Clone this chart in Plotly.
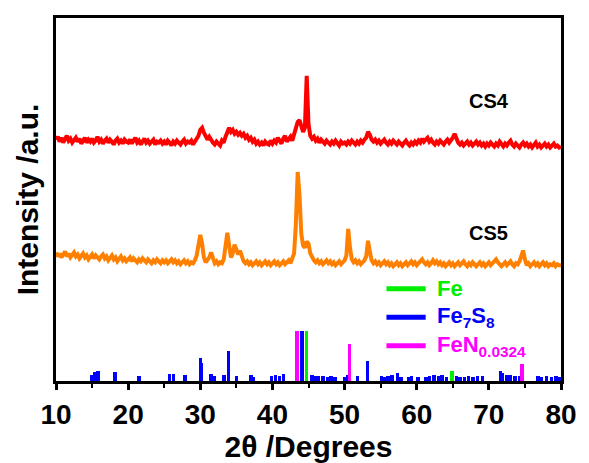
import numpy as np
import plotly.graph_objects as go

# 2-theta grid of the measured patterns (0.25 deg steps)
two_theta = np.round(np.arange(10, 80.001, 0.25), 2)

# CS4 intensity (offset, arbitrary units)
cs4 = [
    246,249,244,248,243,247,250,245,247,243,246,248,244,247,242,245,248,243,246,244,
    247,243,245,249,244,246,242,245,247,243,246,244,241,245,247,243,245,242,246,244,
    243,246,242,245,248,243,245,241,244,247,243,245,242,244,246,241,244,243,245,242,
    244,241,245,243,240,244,242,245,243,241,244,246,242,244,243,245,241,244,247,250,
    256,258,253,249,246,249,245,243,241,244,242,240,245,243,249,255,258,254,256,252,
    254,251,253,250,252,248,250,246,248,244,246,242,244,241,243,240,244,242,241,245,
    242,245,243,248,244,242,247,250,244,246,249,245,251,256,264,266,259,254,258,311,
    262,250,247,249,245,247,243,246,244,242,245,243,241,244,242,245,243,240,244,242,
    243,241,244,242,245,243,241,244,242,245,243,246,248,254,251,246,244,246,243,245,
    242,244,246,243,241,244,242,245,243,241,244,242,240,243,245,242,240,243,241,244,
    242,245,243,247,244,246,248,244,246,243,241,244,242,245,243,241,244,246,243,245,
    248,252,246,243,241,243,240,242,244,241,243,240,242,244,241,243,240,242,239,242,
    240,243,241,239,242,240,244,241,239,242,240,243,245,241,239,242,240,238,241,243,
    240,242,239,241,238,240,243,239,241,238,240,242,239,241,238,240,242,239,240,238,
    239,
]

# CS5 intensity (offset, arbitrary units)
cs5 = [
    131,127,130,126,129,132,127,130,126,128,131,127,129,125,128,130,126,128,124,127,
    129,125,128,126,124,127,129,125,127,123,126,128,124,126,122,125,127,123,125,122,
    124,126,122,125,123,121,124,122,125,123,121,124,122,120,123,121,124,122,120,123,
    121,123,120,122,124,121,123,120,122,119,121,123,120,122,119,121,120,123,128,138,
    149,140,126,121,123,126,131,124,120,122,119,121,120,124,135,151,138,126,130,139,
    134,129,133,126,122,120,122,119,121,118,120,122,119,121,118,120,122,119,121,118,
    120,122,119,121,118,120,122,119,121,123,120,124,130,160,213,190,150,138,136,142,
    140,130,126,123,121,123,120,122,119,121,123,120,122,119,121,118,120,122,119,121,
    123,128,155,136,124,121,123,120,122,119,121,123,127,143,132,123,120,122,119,121,
    118,120,122,119,121,118,120,117,119,121,118,120,117,119,121,118,120,122,119,121,
    118,120,122,124,121,119,121,118,120,123,120,122,119,121,118,120,117,119,121,118,
    120,117,119,121,118,120,122,119,117,120,118,121,119,117,119,121,118,120,117,119,
    121,118,120,122,124,121,119,117,119,121,118,120,122,119,117,120,119,122,128,133,
    124,118,120,117,119,121,118,120,117,119,121,118,120,117,119,118,120,117,119,118,
    118,
]

# Reference patterns (stick positions / relative heights)
fe_pos = [44.7, 64.9]
fe_int = [51, 10]

fen_pos = [43.4, 50.7, 74.6]
fen_int = [51, 38, 17]

fe7s8_pos = [15.0, 15.4, 15.8, 18.2, 21.5, 25.7, 26.3, 27.9, 30.0, 30.2, 31.5, 32.0,
             33.3, 33.9, 35.0, 37.0, 37.3, 39.9, 40.4, 41.0, 41.5, 44.1, 45.5, 45.8,
             46.3, 47.0, 47.6, 48.1, 48.7, 50.0, 50.4, 51.8, 53.2, 55.1, 55.5, 56.0,
             56.6, 57.3, 57.8, 58.9, 59.3, 60.2, 61.3, 61.8, 62.4, 63.0, 63.5, 64.1,
             65.5, 66.0, 66.6, 67.2, 67.8, 68.4, 69.1, 71.6, 71.9, 72.5, 73.0, 73.6,
             74.3, 76.8, 77.3, 78.0, 78.7, 79.3, 79.8]
fe7s8_int = [6, 9, 10, 9, 5, 7, 7, 6, 23, 18, 7, 5,
             6, 31, 5, 6, 4, 5, 6, 5, 7, 51, 6, 5,
             5, 5, 4, 5, 4, 4, 6, 5, 20, 5, 4, 5,
             6, 8, 4, 4, 5, 4, 4, 5, 6, 5, 6, 4,
             5, 4, 4, 5, 4, 5, 5, 10, 8, 6, 6, 5,
             5, 5, 4, 5, 4, 5, 4]

x_ticks = [10, 20, 30, 40, 50, 60, 70, 80]

FONT = "Liberation Sans, Arial, sans-serif"
RED = "#ff0000"
ORANGE = "#ff8000"
BLUE = "#0000ff"
MAGENTA = "#ff00ff"
GREEN = "#00ee00"

fig = go.Figure()

fig.add_trace(go.Scatter(x=two_theta, y=cs4, mode="lines",
                         line=dict(color=RED, width=4), showlegend=False))
fig.add_trace(go.Scatter(x=two_theta, y=cs5, mode="lines",
                         line=dict(color=ORANGE, width=4), showlegend=False))

fig.add_trace(go.Bar(x=fe7s8_pos, y=fe7s8_int, width=0.48, marker_color=BLUE,
                     marker_line_width=0, showlegend=False))
fig.add_trace(go.Bar(x=fen_pos, y=fen_int, width=0.5, marker_color=MAGENTA,
                     marker_line_width=0, showlegend=False))
fig.add_trace(go.Bar(x=fe_pos, y=fe_int, width=0.5, marker_color=GREEN,
                     marker_line_width=0, showlegend=False))

W, H = 589, 463
ML, MR, MT, MB = 56, 18, 18, 75
pw, ph = W - ML - MR, H - MT - MB


def px(xp):
    return (xp - ML) / pw


def py(yp):
    return (H - MB - yp) / ph


# legend (manual)
legend_items = [("Fe", GREEN, 294), ("Fe<sub>7</sub>S<sub>8</sub>", BLUE, 323),
                ("FeN<sub>0.0324</sub>", MAGENTA, 352)]
shapes = []
annotations = []
for label, col, yp in legend_items:
    shapes.append(dict(type="line", xref="paper", yref="paper",
                       x0=px(393), x1=px(433), y0=py(yp), y1=py(yp),
                       line=dict(color=col, width=5)))
    annotations.append(dict(xref="paper", yref="paper", x=px(443), y=py(yp),
                            xanchor="left", yanchor="middle", showarrow=False,
                            text="<b>" + label + "</b>",
                            font=dict(family=FONT, size=22, color=col)))

annotations.append(dict(x=70.0, y=285, xref="x", yref="y", showarrow=False,
                        text="<b>CS4</b>", font=dict(family=FONT, size=20, color="black")))
annotations.append(dict(x=69.9, y=151, xref="x", yref="y", showarrow=False,
                        text="<b>CS5</b>", font=dict(family=FONT, size=20, color="black")))

fig.update_layout(
    width=W, height=H,
    margin=dict(l=ML, r=MR, t=MT, b=MB),
    paper_bgcolor="white", plot_bgcolor="white",
    barmode="overlay", bargap=0,
    shapes=shapes, annotations=annotations,
    font=dict(family=FONT, color="black"),
)

fig.update_xaxes(
    range=[10, 80], tickvals=x_ticks, ticktext=["<b>%d</b>" % v for v in x_ticks],
    tickfont=dict(family=FONT, size=28, color="black"),
    ticks="outside", ticklen=6, tickwidth=2.5, tickcolor="black",
    minor=dict(dtick=5, tick0=10, ticks="outside", ticklen=4, tickwidth=2, tickcolor="black"),
    showline=True, linewidth=3, linecolor="black", mirror=True,
    showgrid=False, zeroline=False,
    title=dict(text="<b>2θ /Degrees</b>", font=dict(family=FONT, size=30, color="black"),
               standoff=0),
)
fig.update_yaxes(
    range=[0, 370], showticklabels=False, ticks="",
    showline=True, linewidth=3, linecolor="black", mirror=True,
    showgrid=False, zeroline=False,
    title=dict(text="<b>Intensity /a.u.</b>", font=dict(family=FONT, size=30, color="black"),
               standoff=6),
)

fig.write_html("out.html")
